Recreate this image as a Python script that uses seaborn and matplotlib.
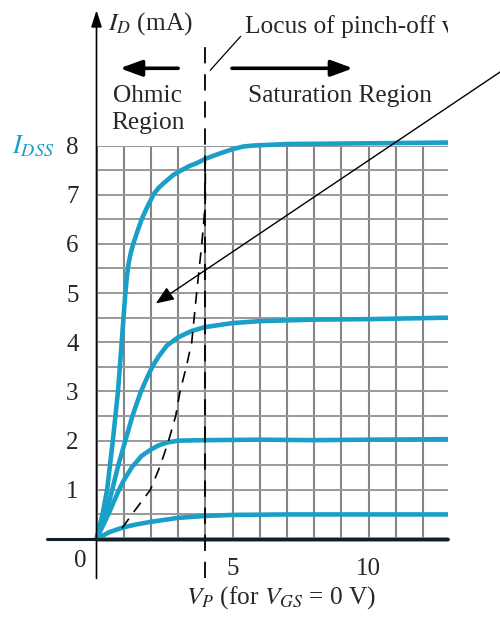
import numpy as np
import pandas as pd
import matplotlib
matplotlib.use("Agg")
import matplotlib.pyplot as plt
import seaborn as sns
from matplotlib.patches import Rectangle, ArrowStyle

# drain characteristic curves (V_DS in V, I_D in mA)
vds_0 = [0, 0.22, 0.39, 0.6, 0.79, 0.96, 1.06, 1.12, 1.18, 1.26, 1.35, 1.5, 1.66, 1.84, 2.09, 2.27, 2.46, 2.82, 3.13, 3.4, 3.68, 4.0, 4.54, 5.03, 5.4, 5.77, 7.0, 9.0, 11.0, 12.92]
id_0 = [0, 0.5, 1.0, 2.0, 3.0, 4.25, 5.0, 5.35, 5.6, 5.82, 6.0, 6.25, 6.5, 6.72, 7.0, 7.13, 7.23, 7.4, 7.5, 7.58, 7.64, 7.73, 7.84, 7.93, 7.98, 8.0, 8.03, 8.04, 8.05, 8.06]

vds_1 = [0, 0.39, 0.6, 0.81, 1.06, 1.32, 1.62, 1.85, 2.05, 2.27, 2.58, 3.0, 3.5, 4.0, 5.0, 6.0, 8.0, 10.0, 12.92]
id_1 = [0, 0.6, 1.05, 1.52, 2.0, 2.5, 2.98, 3.27, 3.5, 3.7, 3.93, 4.1, 4.23, 4.31, 4.39, 4.43, 4.46, 4.47, 4.5]

vds_2 = [0, 0.45, 0.81, 1.0, 1.3, 1.66, 2.0, 2.27, 2.58, 3.0, 4.0, 6.0, 8.0, 10.0, 12.92]
id_2 = [0, 0.52, 0.98, 1.19, 1.46, 1.69, 1.82, 1.9, 1.96, 2.0, 2.01, 2.02, 2.01, 2.02, 2.03]

vds_3 = [0, 0.47, 1.0, 1.5, 2.0, 3.0, 4.0, 5.0, 7.0, 10.0, 12.92]
id_3 = [0, 0.14, 0.24, 0.3, 0.35, 0.43, 0.47, 0.49, 0.5, 0.5, 0.5]

vds_4 = [0, 12.92]
id_4 = [0, 0]

# locus of pinch-off voltages (dashed)
locus_vds = [0.94, 1.3, 1.98, 2.35, 2.65, 2.91, 3.07, 3.3, 3.5, 3.68, 3.87, 3.95, 4.0, 4.0]
locus_id = [0.22, 0.5, 1.0, 1.5, 2.0, 2.5, 3.0, 3.5, 4.0, 5.0, 6.0, 6.5, 6.9, 7.75]

vp = 4.0
x_ticks = [5, 10]
x_minor = [0, 1, 2, 3, 4, 5, 6, 7, 8, 9, 10, 11, 12]
y_ticks = [1, 2, 3, 4, 5, 6, 7, 8]
y_minor = [0, 0.5, 1, 1.5, 2, 2.5, 3, 3.5, 4, 4.5, 5, 5.5, 6, 6.5, 7, 7.5, 8]

teal = "#1a9fc8"

curves = pd.concat([
    pd.DataFrame({"vds": v, "id": i, "curve": n})
    for n, (v, i) in enumerate([(vds_0, id_0), (vds_1, id_1), (vds_2, id_2),
                                (vds_3, id_3), (vds_4, id_4)])
])

sns.set_style("white")
plt.rcParams["font.family"] = ["Liberation Serif", "DejaVu Serif"]
plt.rcParams["mathtext.fontset"] = "stix"
fs = 18.3

fig = plt.figure(figsize=(5, 6.2), dpi=100)
ax = fig.add_axes([0.193, 0.1306, 0.703, 0.6347])
ax.set_xlim(0, 12.92)
ax.set_ylim(0, 8)
for s in ax.spines.values():
    s.set_visible(False)

ax.set_xticks(x_ticks)
ax.set_xticks(x_minor, minor=True)
ax.set_yticks(y_ticks)
ax.set_yticks(y_minor, minor=True)
ax.set_xticklabels([str(t) for t in x_ticks], fontsize=18)
ax.set_yticklabels([str(t) for t in y_ticks], fontsize=18)
ax.tick_params(axis="x", which="major", direction="inout", length=10.8, width=1.3, pad=8.5, color="black")
ax.tick_params(axis="y", which="major", direction="inout", length=15.8, width=1.3, pad=5, color="black")
ax.tick_params(which="minor", length=0)
ax.grid(which="both", axis="x", color="#858585", lw=1.5)
ax.grid(which="both", axis="y", color="#999999", lw=1.4)
ax.set_axisbelow(True)

# curves
sns.lineplot(data=curves, x="vds", y="id", units="curve", estimator=None, sort=False,
             color=teal, lw=3.3, ax=ax, clip_on=False, zorder=3,
             solid_joinstyle="round", solid_capstyle="butt")
ax.set_xlabel("")
ax.set_ylabel("")

ax.plot(locus_vds, locus_id, color="black", lw=1.2, ls=(0, (7, 5)), zorder=4)
ax.vlines(vp, -0.8, 10.18, color="black", lw=1.3, linestyles=(0, (9, 6)), clip_on=False, zorder=4)

# axes lines
ax.plot([-1.83, 12.92], [0, 0], color="#10202a", lw=2.2, clip_on=False, zorder=5)
ax.annotate("", xy=(0, 10.75), xytext=(0, -0.8), annotation_clip=False,
            arrowprops=dict(arrowstyle=ArrowStyle("-|>", head_length=0.5, head_width=0.16),
                            mutation_scale=20, color="black", lw=1.2, shrinkA=0, shrinkB=0))

# labels
ax.text(-0.61, -0.45, "0", fontsize=18, ha="center", va="center")
ax.text(0.42, 10.35, r"$I_D$ (mA)", fontsize=fs, ha="left", va="baseline")
ax.text(-3.1, 7.84, r"$I_{DSS}$", fontsize=fs + 0.5, color=teal, ha="left", va="baseline")
ax.text(6.78, -1.31, r"$V_P$ (for $V_{GS}$ = 0 V)", fontsize=fs, ha="center", va="baseline")
ax.text(1.875, 8.88, "Ohmic", fontsize=fs, ha="center", va="baseline")
ax.text(1.875, 8.34, "Region", fontsize=fs, ha="center", va="baseline")
ax.text(8.95, 8.88, "Saturation Region", fontsize=fs, ha="center", va="baseline")

locus = ax.text(5.46, 10.29, "Locus of pinch-off voltages", fontsize=fs, ha="left", va="baseline")
locus.set_clip_path(Rectangle((0, 0), 448 / 500, 1, transform=fig.transFigure))
locus.set_clip_on(True)
ax.plot([4.18, 5.3], [9.53, 10.22], color="black", lw=0.9, clip_on=False)

region_head = ArrowStyle("-|>", head_length=0.6, head_width=0.22)
ax.annotate("", xy=(0.86, 9.57), xytext=(3.0, 9.57), annotation_clip=False,
            arrowprops=dict(arrowstyle=region_head, mutation_scale=22, color="black", lw=2.6,
                            shrinkA=0, shrinkB=0))
ax.annotate("", xy=(9.43, 9.57), xytext=(4.98, 9.57), annotation_clip=False,
            arrowprops=dict(arrowstyle=region_head, mutation_scale=22, color="black", lw=2.6,
                            shrinkA=0, shrinkB=0))

ax.annotate("", xy=(2.18, 4.79), xytext=(15.2, 9.63), annotation_clip=False,
            arrowprops=dict(arrowstyle=ArrowStyle("-|>", head_length=0.55, head_width=0.22),
                            mutation_scale=20, color="black", lw=1.0, shrinkA=0, shrinkB=0))

fig.savefig("out.png", dpi=100)
